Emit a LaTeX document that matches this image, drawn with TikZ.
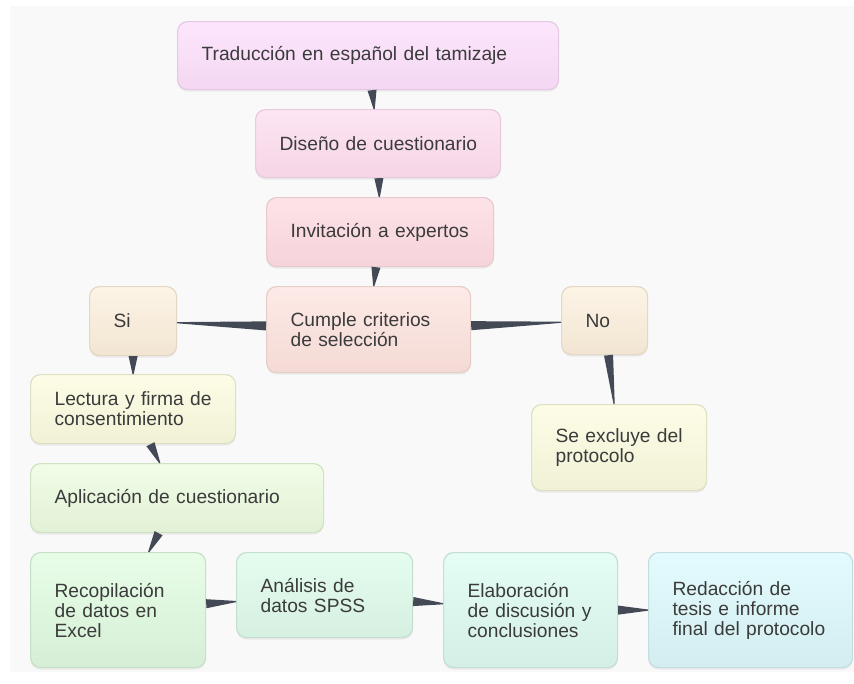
\documentclass[tikz,border=0pt]{standalone}
\usepackage{fontspec}
\setmainfont{Liberation Sans}
\usepackage{xcolor}
\usepackage{tikz}
\usetikzlibrary{calc,shadows}

\newdimen\px
\px=0.75pt

\definecolor{canvas}{HTML}{F9F9F9}
\definecolor{txt}{HTML}{3B3B3B}
\definecolor{wedge}{HTML}{434A56}
\definecolor{tradT}{HTML}{FDE6FD}\definecolor{tradB}{HTML}{F4D7F2}\definecolor{tradD}{HTML}{E5C8E3}
\definecolor{disT}{HTML}{FDE5F3}\definecolor{disB}{HTML}{F5D5E6}\definecolor{disD}{HTML}{E8CADA}
\definecolor{invT}{HTML}{FDE3E7}\definecolor{invB}{HTML}{F5D3DA}\definecolor{invD}{HTML}{E9C9CF}
\definecolor{cumT}{HTML}{FDEAE6}\definecolor{cumB}{HTML}{F4DAD5}\definecolor{cumD}{HTML}{E6CDC8}
\definecolor{decT}{HTML}{FDF4E6}\definecolor{decB}{HTML}{F2E5D2}\definecolor{decD}{HTML}{E3D8C5}
\definecolor{lecT}{HTML}{FDFDE7}\definecolor{lecB}{HTML}{F1F1D6}\definecolor{lecD}{HTML}{DFDFC6}
\definecolor{aplT}{HTML}{F1FDE7}\definecolor{aplB}{HTML}{E2F1D6}\definecolor{aplD}{HTML}{CFE3C3}
\definecolor{recT}{HTML}{E7FDE7}\definecolor{recB}{HTML}{D6EED6}\definecolor{recD}{HTML}{C6E0C6}
\definecolor{anaT}{HTML}{E5FDEF}\definecolor{anaB}{HTML}{D5EFE0}\definecolor{anaD}{HTML}{C4DFD0}
\definecolor{elaT}{HTML}{E4FDF5}\definecolor{elaB}{HTML}{D4EFE6}\definecolor{elaD}{HTML}{C3DFD5}
\definecolor{redT}{HTML}{E3FBFD}\definecolor{redB}{HTML}{D3EDF0}\definecolor{redD}{HTML}{C3DDE0}

% one tapered connector, wide at the first node, thin at the second
\newcommand\taper[2]{%
  \path (#1) -- (#2) coordinate[pos=0] (ta) coordinate[pos=1] (tb);
  \fill[connector] ($(ta)!3.4pt!90:(tb)$) -- ($(ta)!3.4pt!-90:(tb)$)
    -- ($(tb)!0.45pt!90:(ta)$) -- ($(tb)!0.45pt!-90:(ta)$) -- cycle;}

\tikzset{
  box/.style={rectangle, rounded corners=7.5pt, line width=0.9pt, anchor=north west,
    align=left, inner xsep=24\px, text=txt, font=\fontsize{14.4pt}{15pt}\selectfont,
    execute at begin node={\hyphenpenalty=10000\rightskip=0pt plus 1fil minus 60pt\relax},
    drop shadow={shadow xshift=0pt, shadow yshift=-1.5pt, opacity=0.12}},
  tint/.style={top color=#1T, bottom color=#1B, draw=#1D},
  connector/.style={fill=wedge},
}

\begin{document}
\begin{tikzpicture}[x=0.75pt, y=-0.75pt]
  \useasboundingbox (0,0) rectangle (854,683);
  \fill[white] (0,0) rectangle (854,683);
  \fill[canvas] (10,6) rectangle (854,672);

  % main column
  \node[box, tint=trad, text width=333\px, minimum height=68\px]
    (trad) at (177,21) {Traducción en español del tamizaje};
  \node[box, tint=dis, text width=197\px, minimum height=68\px]
    (diseno) at (255,109) {Diseño de cuestionario};
  \node[box, tint=inv, text width=179\px, minimum height=69\px]
    (invita) at (266,197) {Invitación a expertos};
  \node[box, tint=cum, text width=156\px, minimum height=86\px]
    (cumple) at (266,286) {Cumple criterios\\de selección};

  % decision
  \node[box, tint=dec, text width=39\px, minimum height=69\px]
    (si) at (89,286) {Si};
  \node[box, tint=dec, text width=38\px, minimum height=68\px]
    (no) at (561,286) {No};
  \node[box, tint=lec, text width=157\px, minimum height=69\px]
    (lectura) at (30,374) {Lectura y firma de\\consentimiento};
  \node[box, tint=lec, text width=127\px, minimum height=86\px]
    (excluye) at (531,404) {Se excluye del\\protocolo};
  \node[box, tint=apl, text width=245\px, minimum height=69\px]
    (aplica) at (30,463) {Aplicación de cuestionario};

  % bottom row
  \node[box, tint=rec, text width=127\px, minimum height=115\px]
    (recop) at (30,552) {Recopilación\\de datos en\\Excel};
  \node[box, tint=ana, text width=128\px, minimum height=85\px]
    (analisis) at (236,552) {Análisis de\\datos SPSS};
  \node[box, tint=ela, text width=126\px, minimum height=115\px]
    (elabora) at (443,552) {Elaboración\\de discusión y\\conclusiones};
  \node[box, tint=red, text width=156\px, minimum height=115\px]
    (redacta) at (648,552) {Redacción de\\tesis e informe\\final del protocolo};

  % connectors
  \taper{trad}{diseno}
  \taper{diseno}{invita}
  \taper{invita}{cumple}
  \taper{cumple}{si}
  \taper{cumple}{no}
  \taper{si}{lectura}
  \taper{no}{excluye}
  \taper{lectura}{aplica}
  \taper{aplica}{recop}
  \taper{recop}{analisis}
  \taper{analisis}{elabora}
  \taper{elabora}{redacta}
\end{tikzpicture}
\end{document}
